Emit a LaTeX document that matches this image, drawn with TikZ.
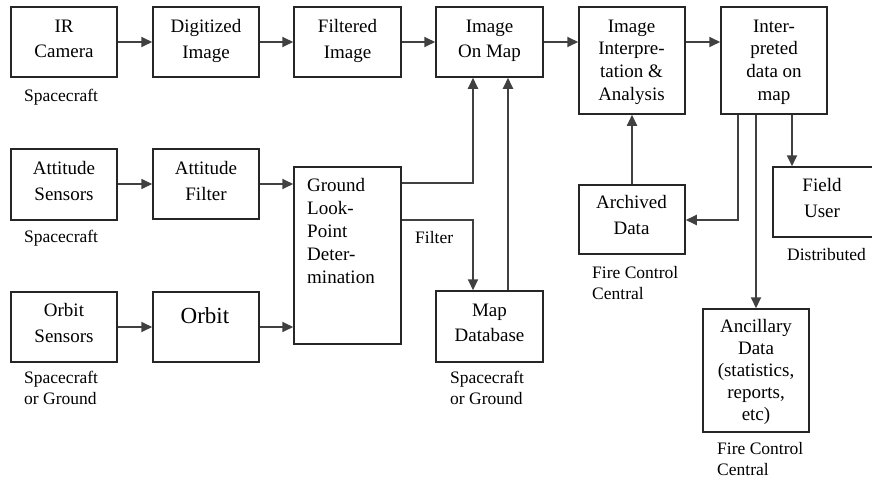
\documentclass[tikz,border=0pt]{standalone}
\usepackage{fontspec}
\setmainfont{Liberation Serif}
\usetikzlibrary{arrows.meta,calc}
\begin{document}
\begin{tikzpicture}[x=1pt,y=-1pt,
 box/.style={draw=black!85, line width=1.5pt, rectangle, inner sep=0pt},
 btxt/.style={anchor=north, align=center, inner sep=0pt, font=\fontsize{19}{25.5}\selectfont},
 tight/.style={font=\fontsize{19}{22.8}\selectfont},
 lbl/.style={anchor=north west, align=left, inner sep=0pt, font=\fontsize{17.5}{21}\selectfont},
 arr/.style={draw=black!75, line width=1.8pt, -{Triangle[length=11pt,width=10pt]}},
 ln/.style={draw=black!75, line width=1.8pt}]
\useasboundingbox (0,0) rectangle (872,479);

% boxes
\node[box, minimum width=106pt, minimum height=70pt] (ir) at (64,42) {};
\node[box, minimum width=106pt, minimum height=70pt] (dig) at (206,42) {};
\node[box, minimum width=107pt, minimum height=70pt] (fil) at (347.5,42) {};
\node[box, minimum width=107pt, minimum height=70pt] (map) at (489.5,42) {};
\node[box, minimum width=106pt, minimum height=107pt] (interp) at (632,60.5) {};
\node[box, minimum width=106pt, minimum height=107pt] (interd) at (774,60.5) {};
\node[box, minimum width=106pt, minimum height=71pt] (atts) at (64,184.5) {};
\node[box, minimum width=106pt, minimum height=70pt] (attf) at (206,184) {};
\node[box, minimum width=107pt, minimum height=177pt] (glp) at (347.5,255.5) {};
\node[box, minimum width=106pt, minimum height=70pt] (orbs) at (64,327) {};
\node[box, minimum width=106pt, minimum height=70pt] (orb) at (206,327) {};
\node[box, minimum width=107pt, minimum height=71pt] (mapdb) at (489.5,326.5) {};
\node[box, minimum width=106pt, minimum height=69pt] (arch) at (632,219.5) {};
\node[box, minimum width=106pt, minimum height=70pt] (field) at (826,202) {};
\node[box, minimum width=106pt, minimum height=123pt] (anc) at (756,370.5) {};

% box texts
\node[btxt] (ir-t) at (64,19.5) {IR\\Camera};
\node[btxt] (dig-t) at (206,19.5) {Digitized\\Image};
\node[btxt] (fil-t) at (347.5,19.5) {Filtered\\Image};
\node[btxt] (map-t) at (489.5,19.5) {Image\\On Map};
\node[btxt, tight] (interp-t) at (631.5,19.5) {Image\\Interpre-\\tation \&\\Analysis};
\node[btxt, tight] (interd-t) at (774,19.5) {Inter-\\preted\\data on\\map};
\node[btxt] (atts-t) at (64,161.5) {Attitude\\Sensors};
\node[btxt] (attf-t) at (206,161.5) {Attitude\\Filter};
\node[btxt, tight, anchor=north west, align=left] (glp-t) at (307,178.5) {Ground\\Look-\\Point\\Deter-\\mination};
\node[btxt] (orbs-t) at (64,303.5) {Orbit\\Sensors};
\node[btxt, font=\fontsize{23}{27}\selectfont] (orb-t) at (205,307.4) {Orbit};
\node[btxt] (mapdb-t) at (489.5,303.5) {Map\\Database};
\node[btxt] (arch-t) at (631.5,195.5) {Archived\\Data};
\node[btxt] (field-t) at (822,178.5) {Field\\User};
\node[btxt, font=\fontsize{19}{21.8}\selectfont] (anc-t) at (756,319.5) {Ancillary\\Data\\(statistics,\\reports,\\etc)};

% labels
\node[lbl] (l1) at (24,89) {Spacecraft};
\node[lbl] (l2) at (24,230) {Spacecraft};
\node[lbl] (l3) at (24,371) {Spacecraft\\or Ground};
\node[lbl] (l4) at (415,231) {Filter};
\node[lbl] (l5) at (450,371) {Spacecraft\\or Ground};
\node[lbl] (l6) at (592,266) {Fire Control\\Central};
\node[lbl] (l7) at (787,248) {Distributed};
\node[lbl] (l8) at (717,442) {Fire Control\\Central};

% helper coordinates
\coordinate (c1) at (473,183);
\coordinate (c2) at (473,220);
\coordinate (c3) at (508,200);
\coordinate (d1) at (738,220);
\coordinate (d3) at (792,140);

% connectors
\draw[arr] (ir.east) -- (dig.west);
\draw[arr] (dig.east) -- (fil.west);
\draw[arr] (fil.east) -- (map.west);
\draw[arr] (map.east) -- (map.east -| interp.west);
\draw[arr] (map.east -| interp.east) -- (map.east -| interd.west);
\draw[arr] (atts.east |- attf.east) -- (attf.west);
\draw[arr] (attf.east) -- (attf.east -| glp.west);
\draw[arr] (orbs.east |- orb.east) -- (orb.west);
\draw[arr] (orb.east) -- (orb.east -| glp.west);
\draw[arr] (glp.east |- c1) -- (c1) -- (c1 |- map.south);
\draw[arr] (glp.east |- c2) -- (c2) -- (c2 |- mapdb.north);
\draw[arr] (c3 |- mapdb.north) -- (c3 |- map.south);
\draw[arr] (arch.north) -- (interp.south);
\draw[arr] (d1 |- interd.south) -- (d1) -- (d1 -| arch.east);
\draw[arr] (interd.south -| anc.north) -- (anc.north);
\draw[arr] (d3 |- interd.south) -- (d3 |- field.north);
\end{tikzpicture}
\end{document}
